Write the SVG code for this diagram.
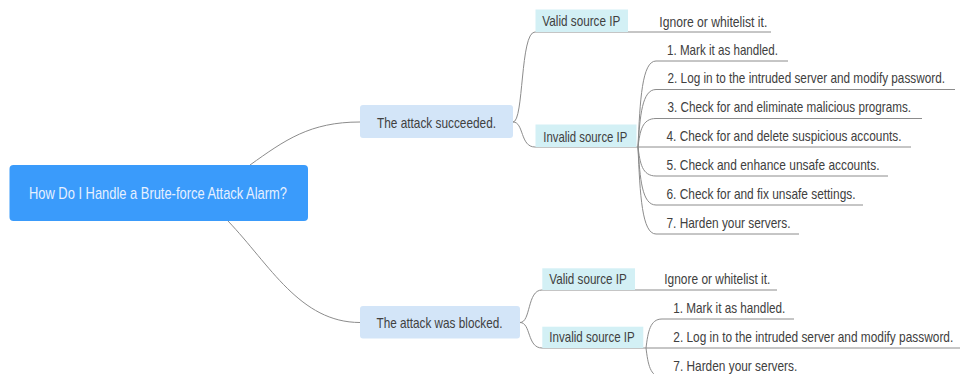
<svg xmlns="http://www.w3.org/2000/svg" width="960" height="374" viewBox="0 0 960 374">
<style>
text{font-family:"Liberation Sans",Arial,sans-serif;font-size:14px;fill:#404040}
.root-t{font-size:16px;fill:#e6f0ff}
.ln{fill:none;stroke:#8c8c8c;stroke-width:1}
.root{fill:#3a9bfb}
.l1{fill:#d3e5f8}
.l2{fill:#d3f0f5}
</style>
<rect width="960" height="374" fill="#ffffff"/>
<g id="connectors">
<path class="ln" d="M250,165 C285,140 310,122 360,122"/>
<path class="ln" d="M228,221 C270,265 300,322.5 360,322.5"/>
<path class="ln" d="M513,122 C524,122 520,32 535,32 H628"/>
<path class="ln" d="M513,122 C524,122 520,147 535,147 H638"/>
<path class="ln" d="M628,32 H771"/>
<path class="ln" d="M638,147 C640,100 642,61 656,61 H788"/>
<path class="ln" d="M638,147 C640,116 642,89.5 656,89.5 H955"/>
<path class="ln" d="M638,147 C640,131 642,118.5 656,118.5 H922"/>
<path class="ln" d="M638,147 H911"/>
<path class="ln" d="M638,147 C640,163 642,176 656,176 H888"/>
<path class="ln" d="M638,147 C640,179 642,205 656,205 H863"/>
<path class="ln" d="M638,147 C640,195 642,234 656,234 H799"/>
<path class="ln" d="M520,322.5 C531,322.5 527,290 542,290 H635"/>
<path class="ln" d="M520,322.5 C531,322.5 527,348 542,348 H646"/>
<path class="ln" d="M635,290 H777"/>
<path class="ln" d="M646,348 C648,332 650,319 662,319 H794"/>
<path class="ln" d="M646,348 H960"/>
<path class="ln" d="M646,348 C648,364 650,377 662,377 H806"/>
</g>
<g id="root">
<rect class="root" x="9.5" y="165" width="298.5" height="56" rx="4"/>
<text class="root-t" transform="translate(29,199.3) scale(0.83,1)" textLength="310.8" lengthAdjust="spacingAndGlyphs">How Do I Handle a Brute-force Attack Alarm?</text>
</g>
<g id="succeeded">
<rect class="l1" x="360" y="105" width="153" height="33" rx="3"/>
<text transform="translate(377,127.5) scale(0.83,1)" textLength="143.4" lengthAdjust="spacingAndGlyphs">The attack succeeded.</text>
</g>
<g id="s-valid">
<rect class="l2" x="535.5" y="9.5" width="92.5" height="22.5"/>
<text transform="translate(542.3,25.7) scale(0.83,1)" textLength="94" lengthAdjust="spacingAndGlyphs">Valid source IP</text>
</g>
<g id="s-invalid">
<rect class="l2" x="535.5" y="124.5" width="101" height="22.5"/>
<text transform="translate(543.3,141.5) scale(0.83,1)" textLength="101.2" lengthAdjust="spacingAndGlyphs">Invalid source IP</text>
</g>
<g id="s-ignore"><text transform="translate(659.3,26.5) scale(0.83,1)" textLength="130.1" lengthAdjust="spacingAndGlyphs">Ignore or whitelist it.</text></g>
<g id="s-1"><text transform="translate(667,54.5) scale(0.83,1)" textLength="133.7" lengthAdjust="spacingAndGlyphs">1. Mark it as handled.</text></g>
<g id="s-2"><text transform="translate(667.5,83.3) scale(0.83,1)" textLength="334.3" lengthAdjust="spacingAndGlyphs">2. Log in to the intruded server and modify password.</text></g>
<g id="s-3"><text transform="translate(667.5,112.3) scale(0.83,1)" textLength="293.4" lengthAdjust="spacingAndGlyphs">3. Check for and eliminate malicious programs.</text></g>
<g id="s-4"><text transform="translate(666.5,141.3) scale(0.83,1)" textLength="283.1" lengthAdjust="spacingAndGlyphs">4. Check for and delete suspicious accounts.</text></g>
<g id="s-5"><text transform="translate(666.5,170) scale(0.83,1)" textLength="256.6" lengthAdjust="spacingAndGlyphs">5. Check and enhance unsafe accounts.</text></g>
<g id="s-6"><text transform="translate(666.5,199) scale(0.83,1)" textLength="227.7" lengthAdjust="spacingAndGlyphs">6. Check for and fix unsafe settings.</text></g>
<g id="s-7"><text transform="translate(666.5,228) scale(0.83,1)" textLength="149.4" lengthAdjust="spacingAndGlyphs">7. Harden your servers.</text></g>
<g id="blocked">
<rect class="l1" x="360" y="306" width="160" height="32.5" rx="3"/>
<text transform="translate(376.5,328.3) scale(0.83,1)" textLength="151.8" lengthAdjust="spacingAndGlyphs">The attack was blocked.</text>
</g>
<g id="b-valid">
<rect class="l2" x="542.3" y="268.3" width="92.7" height="21.7"/>
<text transform="translate(549.3,284.3) scale(0.83,1)" textLength="93.4" lengthAdjust="spacingAndGlyphs">Valid source IP</text>
</g>
<g id="b-invalid">
<rect class="l2" x="542.3" y="326.7" width="101" height="21.3"/>
<text transform="translate(549.3,342.3) scale(0.83,1)" textLength="103" lengthAdjust="spacingAndGlyphs">Invalid source IP</text>
</g>
<g id="b-ignore"><text transform="translate(664.3,284.3) scale(0.83,1)" textLength="127.7" lengthAdjust="spacingAndGlyphs">Ignore or whitelist it.</text></g>
<g id="b-1"><text transform="translate(673.3,313) scale(0.83,1)" textLength="134.9" lengthAdjust="spacingAndGlyphs">1. Mark it as handled.</text></g>
<g id="b-2"><text transform="translate(673.3,342) scale(0.83,1)" textLength="337.3" lengthAdjust="spacingAndGlyphs">2. Log in to the intruded server and modify password.</text></g>
<g id="b-7"><text transform="translate(673.3,371) scale(0.83,1)" textLength="149.4" lengthAdjust="spacingAndGlyphs">7. Harden your servers.</text></g>
</svg>
